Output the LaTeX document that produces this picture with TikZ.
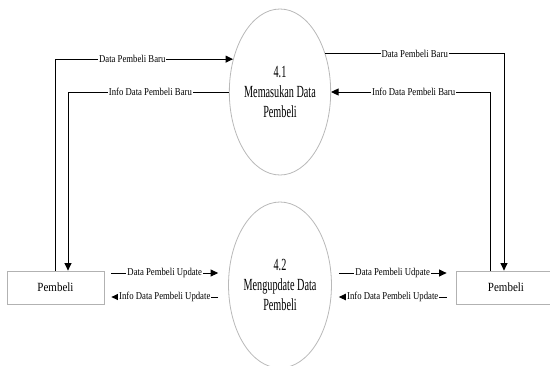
\documentclass[tikz,border=0pt]{standalone}
\usepackage{fontspec}
\setmainfont{Liberation Serif}
\newfontfamily\ellfont[FakeStretch=0.6]{Liberation Serif}
\newfontfamily\lblfont[FakeStretch=0.83]{Liberation Serif}
\newfontfamily\boxfont[FakeStretch=0.88]{Liberation Serif}
\usetikzlibrary{arrows.meta,calc,shapes.geometric}
\begin{document}
\begin{tikzpicture}[x=1pt,y=-1pt,
 proc/.style={ellipse, draw=gray!55, line width=0.8pt, fill=white, minimum width=96pt, minimum height=166pt, inner sep=0pt, align=center, font=\ellfont\fontsize{17}{20}\selectfont},
 ent/.style={rectangle, draw=gray!60, line width=0.8pt, fill=white, minimum width=97pt, minimum height=33pt, font=\boxfont\fontsize{12.5}{14}\selectfont},
 flow/.style={draw=black, line width=0.95pt, -{Triangle[length=7.5pt,width=7pt]}},
 lbl/.style={fill=white, inner sep=1pt, font=\lblfont\fontsize{10.5}{12}\selectfont}]
\useasboundingbox (0,0) rectangle (550,365);

\node[proc] (p41) at (280,92) {4.1\\Memasukan Data\\Pembeli};
\node[proc] (p42) at (280,285) {4.2\\Mengupdate Data\\Pembeli};
\node[ent] (lb) at (55.5,287.5) {Pembeli};
\node[ent, minimum width=100pt] (rb) at (506,287.5) {Pembeli};

\coordinate (L1) at (55,0);
\coordinate (L2) at (68,0);
\coordinate (R1) at (504,0);
\coordinate (R2) at (490,0);
\coordinate (ya) at (0,273);
\coordinate (yb) at (0,297);

\draw[flow] (lb.north -| L1) |- node[lbl,pos=0.717]{Data Pembeli Baru} (p41.145);
\draw[flow] (p41.west) -| node[lbl,pos=0.244]{Info Data Pembeli Baru} (lb.north -| L2);
\draw[flow] (p41.40) -| node[lbl,pos=0.25]{Data Pembeli Baru} (rb.north -| R1);
\draw[flow] (rb.north -| R2) |- node[lbl,pos=0.74]{Info Data Pembeli Baru} (p41.east);

\draw[flow] ($(lb.east|-ya)+(7,0)$) -- node[lbl]{Data Pembeli Update} ($(p42.west|-ya)+(-10,0)$);
\draw[flow] ($(p42.west|-yb)+(-10,0)$) -- node[lbl]{Info Data Pembeli Update} ($(lb.east|-yb)+(7,0)$);
\draw[flow] ($(p42.east|-ya)+(7,0)$) -- node[lbl]{Data Pembeli Udpate} ($(rb.west|-ya)+(-9,0)$);
\draw[flow] ($(rb.west|-yb)+(-9,0)$) -- node[lbl]{Info Data Pembeli Update} ($(p42.east|-yb)+(7,0)$);
\end{tikzpicture}
\end{document}
